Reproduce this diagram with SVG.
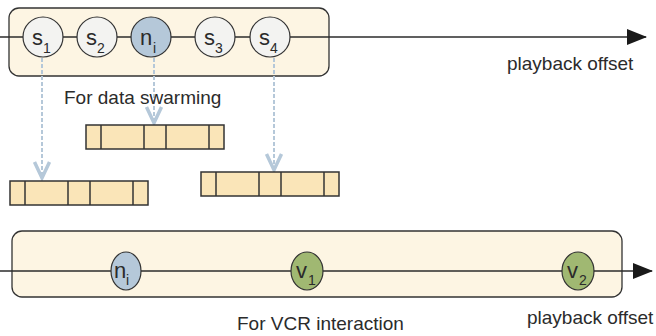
<svg xmlns="http://www.w3.org/2000/svg" width="656" height="336" viewBox="0 0 656 336">
<style>
text{font-family:"Liberation Sans",Arial,sans-serif;fill:#2b2b2b}
.box{fill:#fdf5e3;stroke:#333;stroke-width:1.3}
.axis{stroke:#2b2b2b;stroke-width:1.3;fill:none}
.s{fill:#f3f3f1;stroke:#333;stroke-width:1.2}
.n{fill:#b5c8d9;stroke:#333;stroke-width:1.2}
.v{fill:#a0b872;stroke:#333;stroke-width:1.2}
.bar{fill:#fae5b8;stroke:#333;stroke-width:1.5}
.div{stroke:#333;stroke-width:1.5}
.dash{stroke:#b5c8d9;stroke-width:2;stroke-dasharray:4 2;fill:none}
.head{stroke:#b5c8d9;stroke-width:3.5;fill:none;stroke-linejoin:miter}
.lbl{font-size:19px}
.big{font-size:22px}
.sub{font-size:14px}
</style>
<defs>
<marker id="arr" markerWidth="20" markerHeight="16" refX="19" refY="8" orient="auto" markerUnits="userSpaceOnUse" viewBox="0 0 20 16"><path d="M0,0 L20,8 L0,16 z" fill="#1a1a1a"/></marker>
</defs>
<g id="swarm-timeline">
<rect class="box" x="9" y="8" width="320" height="68" rx="10"/>
</g>
<g id="vcr-timeline">
<rect class="box" x="12" y="231" width="610" height="66" rx="10"/>
</g>
<g id="connectors">
<line class="axis" x1="0" y1="37" x2="646" y2="37" marker-end="url(#arr)"/>
<line class="axis" x1="0" y1="271" x2="652" y2="271" marker-end="url(#arr)"/>
<line class="dash" x1="42" y1="58" x2="42" y2="176"/>
<polyline class="head" points="34.5,162 42,178 49.5,162"/>
<line class="dash" x1="154" y1="58" x2="154" y2="120"/>
<polyline class="head" points="146.5,107 154,123 161.5,107"/>
<line class="dash" x1="274" y1="58" x2="274" y2="167"/>
<polyline class="head" points="266.5,154 274,170 281.5,154"/>
</g>
<g id="s1"><circle class="s" cx="43" cy="37" r="20"/><text class="big" x="32" y="45">s</text><text class="sub" x="43" y="53">1</text></g>
<g id="s2"><circle class="s" cx="97" cy="37" r="20"/><text class="big" x="86" y="45">s</text><text class="sub" x="97" y="53">2</text></g>
<g id="ni-top"><circle class="n" cx="151" cy="37" r="20"/><text class="big" x="140" y="45">n</text><text class="sub" x="153" y="53">i</text></g>
<g id="s3"><circle class="s" cx="215" cy="37" r="20"/><text class="big" x="204" y="45">s</text><text class="sub" x="215" y="53">3</text></g>
<g id="s4"><circle class="s" cx="270" cy="37" r="20"/><text class="big" x="259" y="45">s</text><text class="sub" x="270" y="53">4</text></g>
<g id="label-top"><text class="lbl" x="507" y="70">playback offset</text></g>
<g id="label-swarm"><text class="lbl" x="64" y="104">For data swarming</text></g>
<g id="bar-mid">
<rect class="bar" x="86" y="125" width="138" height="24"/>
<line class="div" x1="101" y1="125" x2="101" y2="149"/><line class="div" x1="144" y1="125" x2="144" y2="149"/><line class="div" x1="166" y1="125" x2="166" y2="149"/><line class="div" x1="209" y1="125" x2="209" y2="149"/>
</g>
<g id="bar-left">
<rect class="bar" x="10" y="181" width="138" height="24"/>
<line class="div" x1="25" y1="181" x2="25" y2="205"/><line class="div" x1="68" y1="181" x2="68" y2="205"/><line class="div" x1="90" y1="181" x2="90" y2="205"/><line class="div" x1="133" y1="181" x2="133" y2="205"/>
</g>
<g id="bar-right">
<rect class="bar" x="201" y="172" width="138" height="24"/>
<line class="div" x1="216" y1="172" x2="216" y2="196"/><line class="div" x1="259" y1="172" x2="259" y2="196"/><line class="div" x1="281" y1="172" x2="281" y2="196"/><line class="div" x1="324" y1="172" x2="324" y2="196"/>
</g>
<g id="ni-bottom"><ellipse class="n" cx="126" cy="271" rx="15" ry="19"/><text class="big" x="114" y="278">n</text><text class="sub" x="126" y="285">i</text></g>
<g id="v1"><ellipse class="v" cx="307" cy="271" rx="16" ry="19"/><text class="big" x="296" y="278">v</text><text class="sub" x="308" y="285">1</text></g>
<g id="v2"><ellipse class="v" cx="578" cy="271" rx="16" ry="19"/><text class="big" x="567" y="278">v</text><text class="sub" x="579" y="285">2</text></g>
<g id="label-vcr"><text class="lbl" x="237" y="330">For VCR interaction</text></g>
<g id="label-bottom"><text class="lbl" x="527" y="324">playback offset</text></g>
</svg>
